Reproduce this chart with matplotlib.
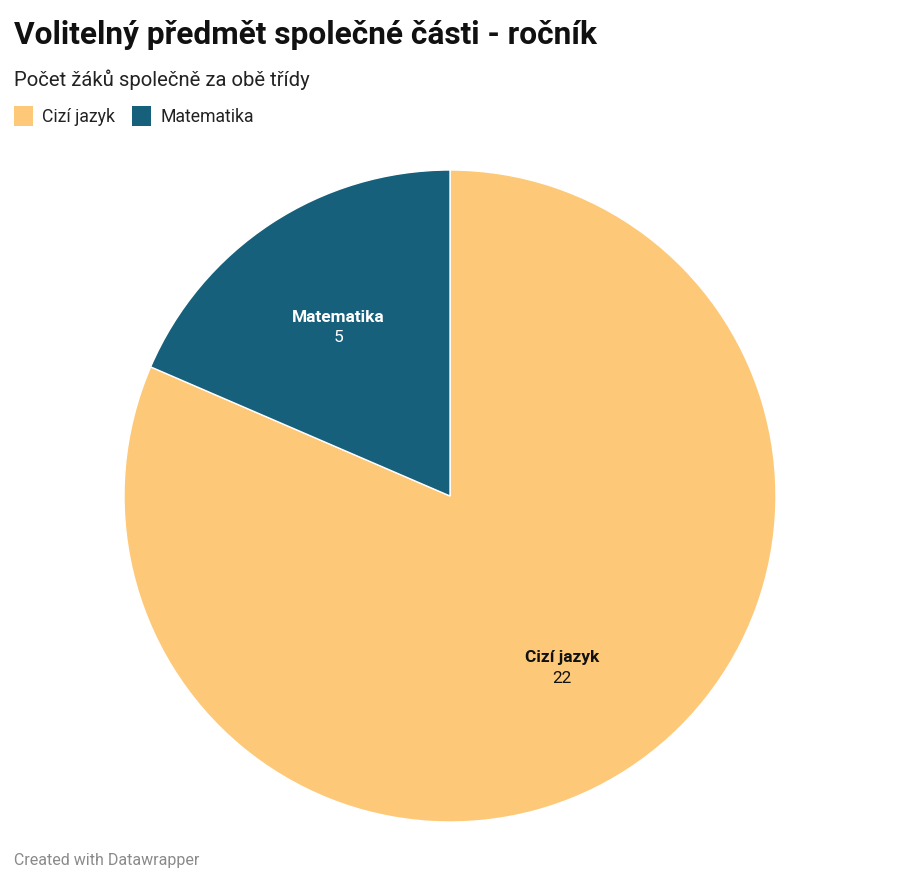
import matplotlib
matplotlib.use("Agg")
import matplotlib.pyplot as plt
from matplotlib.patches import Rectangle
import numpy as np

categories = ["Cizí jazyk", "Matematika"]
values = [22, 5]
colors = ["#fdc979", "#17607b"]
label_colors = ["#111111", "#ffffff"]

title = "Volitelný předmět společné části - ročník"
subtitle = "Počet žáků společně za obě třídy"
footer = "Created with Datawrapper"

W, H = 900, 885
fig = plt.figure(figsize=(W / 100, H / 100), dpi=100)
plt.rcParams['font.family'] = ['Roboto', 'DejaVu Sans']

def fy(py):
    return 1 - py / H

def fx(px):
    return px / W

fig.text(fx(14), fy(44), title, fontsize=22.8, fontweight='bold', color='#111111', va='baseline', ha='left')
fig.text(fx(14), fy(86), subtitle, fontsize=14.6, color='#222222', va='baseline', ha='left')

# legend
leg_x = [14, 132]
txt_x = [42, 160]
for i, c in enumerate(categories):
    fig.patches.append(Rectangle((fx(leg_x[i]), fy(126)), 19 / W, 20 / H, transform=fig.transFigure,
                                 facecolor=colors[i], edgecolor='none'))
    fig.text(fx(txt_x[i]), fy(122), c, fontsize=12.7, color='#222222', va='baseline', ha='left')

fig.text(fx(14), fy(865), footer, fontsize=11.5, color='#8a8a8a', va='baseline', ha='left')

cx, cy, r = 450, 496, 326
ax = fig.add_axes([fx(cx - r), fy(cy + r), 2 * r / W, 2 * r / H])
wedges, _ = ax.pie(values, colors=colors, startangle=90, counterclock=False,
                   wedgeprops=dict(edgecolor='white', linewidth=1), radius=1)
ax.set_xlim(-1, 1)
ax.set_ylim(-1, 1)
ax.set_aspect('equal')
ax.axis('off')

total = sum(values)
start = 90.0
for i, v in enumerate(values):
    ang = start - v / total * 360 / 2
    start -= v / total * 360
    d = 0.625
    x = d * np.cos(np.radians(ang))
    y = d * np.sin(np.radians(ang))
    ax.text(x, y + 0.012, categories[i], ha='center', va='baseline', fontsize=12.4, fontweight='bold',
            color=label_colors[i])
    ax.text(x, y - 0.05, str(v), ha='center', va='baseline', fontsize=12.4, color=label_colors[i])

fig.savefig("out.png", dpi=100, facecolor='white')
